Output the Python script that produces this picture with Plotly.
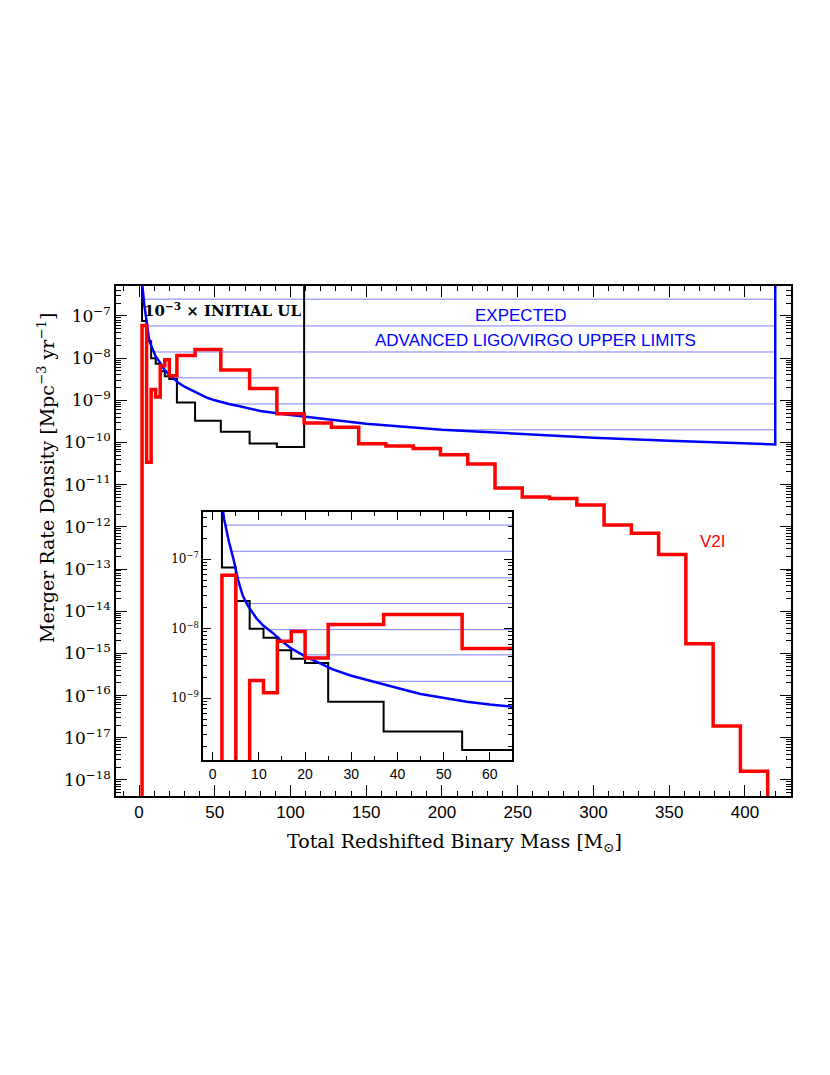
import numpy as np
import plotly.graph_objects as go

# histogram bin edges in total redshifted mass [M_sun]
red_edges = [2, 5, 8, 11, 14, 17, 20, 25, 37, 54, 73, 91, 109, 127, 145, 163, 181,
             199, 217, 235, 253, 271, 289, 307, 325, 343, 361, 379, 397, 415]
# V2I merger rate density [Mpc^-3 yr^-1]
red_rate = [5.9e-8, 3.4e-11, 1.8e-9, 1.2e-9, 6.6e-9, 9.1e-9, 3.8e-9, 1.15e-8, 1.6e-8,
            5.2e-9, 1.9e-9, 4.8e-10, 2.9e-10, 2.3e-10, 9.3e-11, 8.3e-11, 7.2e-11, 5.1e-11,
            3.1e-11, 8.3e-12, 5.1e-12, 4.7e-12, 3.3e-12, 1.1e-12, 7.1e-13, 2.2e-13, 1.7e-15,
            1.9e-17, 1.6e-18]

# 1e-3 x initial upper limit
black_edges = [2, 5, 8, 11, 14, 17, 20, 25, 37, 54, 73, 91, 109]
black_rate = [7.6e-8, 2.5e-8, 1.0e-8, 7.4e-9, 4.9e-9, 3.7e-9, 3.2e-9, 8.9e-10,
              3.3e-10, 1.8e-10, 9.5e-11, 7.8e-11]

# expected advanced LIGO/Virgo upper limit curve
blue_mass = [2.0, 2.5, 3.5, 4.5, 5.5, 6.5, 7.5, 8.5, 9.5, 11, 13, 15, 17, 20, 23, 26, 30,
             35, 40, 45, 50, 55, 60, 65, 80, 100, 125, 150, 200, 250, 300, 350, 420]
blue_rate = [6.3e-7, 3.7e-7, 1.8e-7, 1.0e-7, 5.0e-8, 3.0e-8, 2.2e-8, 1.75e-8, 1.4e-8,
             1.1e-8, 8.7e-9, 6.6e-9, 5.2e-9, 4.0e-9, 3.2e-9, 2.6e-9, 2.1e-9, 1.7e-9,
             1.4e-9, 1.15e-9, 1.0e-9, 8.9e-10, 8.1e-10, 7.4e-10, 5.6e-10, 4.5e-10,
             3.5e-10, 2.8e-10, 2.0e-10, 1.6e-10, 1.3e-10, 1.1e-10, 9.0e-11]

# hatching levels above the expected-limit curve
hatch_main = [2.5e-7, 5.8e-8, 1.4e-8, 3.4e-9, 8.2e-10, 2.0e-10]
hatch_inset = [3.1e-7, 1.3e-7, 5.4e-8, 2.3e-8, 9.7e-9, 4.2e-9, 1.75e-9]

y_ticks = [10.0 ** -k for k in range(7, 19)]
y_text = ["10<sup>\u2212%d</sup>" % k for k in range(7, 19)]
inset_yticks = [1e-7, 1e-8, 1e-9]
inset_ytext = ["10<sup>\u2212%d</sup>" % k for k in (7, 8, 9)]

TOP = 1e-5
BOTTOM = 1e-25
serif = "DejaVu Serif"
sans = "Liberation Sans"


def step_xy(edges, vals, start, end):
    x = [edges[0]] + list(edges[:-1]) + [edges[-1]]
    y = [start] + list(vals) + [end]
    return x, y


def hatch_xy(levels, x_end):
    lx = np.log10(np.array(blue_rate))[::-1]
    mx = np.array(blue_mass)[::-1]
    xs, ys = [], []
    for lv in levels:
        x0 = float(np.interp(np.log10(lv), lx, mx))
        xs += [x0, x_end, None]
        ys += [lv, lv, None]
    return xs, ys


def log_minor(lo, hi):
    return [m * 10.0 ** e for e in range(lo, hi) for m in range(2, 10)]


fig = go.Figure()

for ax in ("", "2"):
    xa, ya = "x" + ax, "y" + ax
    hx, hy = hatch_xy(hatch_main if ax == "" else hatch_inset, 420)
    fig.add_trace(go.Scatter(x=hx, y=hy, mode="lines", xaxis=xa, yaxis=ya,
                             line=dict(color="#7f7fff", width=1), hoverinfo="skip"))
    bx, by = step_xy(black_edges, black_rate, TOP, TOP)
    fig.add_trace(go.Scatter(x=bx, y=by, mode="lines", line_shape="hv", xaxis=xa, yaxis=ya,
                             line=dict(color="black", width=2)))
    fig.add_trace(go.Scatter(x=blue_mass + [blue_mass[-1]], y=blue_rate + [TOP],
                             mode="lines", xaxis=xa, yaxis=ya,
                             line=dict(color="#0000ff", width=2.5)))
    rx, ry = step_xy(red_edges, red_rate, BOTTOM, BOTTOM)
    fig.add_trace(go.Scatter(x=rx, y=ry, mode="lines", line_shape="hv", xaxis=xa, yaxis=ya,
                             line=dict(color="#ff0000", width=3.5)))

axis_common = dict(showline=True, linecolor="black", linewidth=1.5, mirror="ticks",
                   ticks="inside", tickcolor="black", showgrid=False, zeroline=False,
                   automargin=False)

# page body adds ~8px, so the figure is 8px smaller and margins shifted
fig.update_layout(
    width=822, height=1067,
    margin=dict(l=108, r=39, t=278, b=279),
    paper_bgcolor="white", plot_bgcolor="white",
    showlegend=False,
    xaxis=dict(range=[-15.2, 430.4], tickvals=list(range(0, 401, 50)), ticklen=11,
               tickfont=dict(family=sans, size=17, color="black"),
               minor=dict(tickmode="linear", tick0=0, dtick=10, ticks="inside",
                          ticklen=5, tickcolor="black"),
               **axis_common),
    yaxis=dict(type="log", range=[-18.38, -6.29], tickvals=y_ticks, ticktext=y_text,
               ticklen=11, tickfont=dict(family=serif, size=17, color="black"),
               minor=dict(tickmode="array", tickvals=log_minor(-19, -6), ticks="inside",
                          ticklen=5, tickcolor="black"),
               **axis_common),
    xaxis2=dict(domain=[0.1289, 0.5867], anchor="y2", range=[-2.1, 64.8],
                tickvals=list(range(0, 61, 10)), ticklen=8,
                tickfont=dict(family=sans, size=14, color="black"),
                minor=dict(tickmode="linear", tick0=0, dtick=5, ticks="inside",
                           ticklen=4, tickcolor="black"),
                **axis_common),
    yaxis2=dict(domain=[0.0706, 0.5569], anchor="x2", type="log", range=[-9.89, -6.32],
                tickvals=inset_yticks, ticktext=inset_ytext, ticklen=8,
                tickfont=dict(family=serif, size=12, color="black"),
                minor=dict(tickmode="array", tickvals=log_minor(-10, -6), ticks="inside",
                           ticklen=4, tickcolor="black"),
                **axis_common),
)

# axis titles
fig.add_annotation(x=0.502, y=-0.092, xref="paper", yref="paper", showarrow=False,
                   xanchor="center", yanchor="middle",
                   text="Total Redshifted Binary Mass [M<sub>\u2299</sub>]",
                   font=dict(family=serif, size=19, color="black"))
fig.add_annotation(x=-0.1037, y=0.6235, xref="paper", yref="paper", showarrow=False,
                   xanchor="center", yanchor="middle", textangle=-90,
                   text="Merger Rate Density [Mpc<sup>\u22123</sup> yr<sup>\u22121</sup>]",
                   font=dict(family=serif, size=19, color="black"))

fig.add_annotation(x=54.8, y=-6.86, xref="x", yref="y", showarrow=False,
                   text="<b>10<sup>\u22123</sup> \u00d7 INITIAL UL</b>",
                   font=dict(family=serif, size=15, color="black"))
fig.add_annotation(x=252, y=-7.0, xref="x", yref="y", showarrow=False, text="EXPECTED",
                   font=dict(family=sans, size=17, color="#0000ff"))
fig.add_annotation(x=262, y=-7.59, xref="x", yref="y", showarrow=False,
                   text="ADVANCED LIGO/VIRGO UPPER LIMITS",
                   font=dict(family=sans, size=17, color="#0000ff"))
fig.add_annotation(x=379, y=-12.34, xref="x", yref="y", showarrow=False, text="V2I",
                   font=dict(family=sans, size=17, color="#ff0000"))

fig.write_html("out.html")
